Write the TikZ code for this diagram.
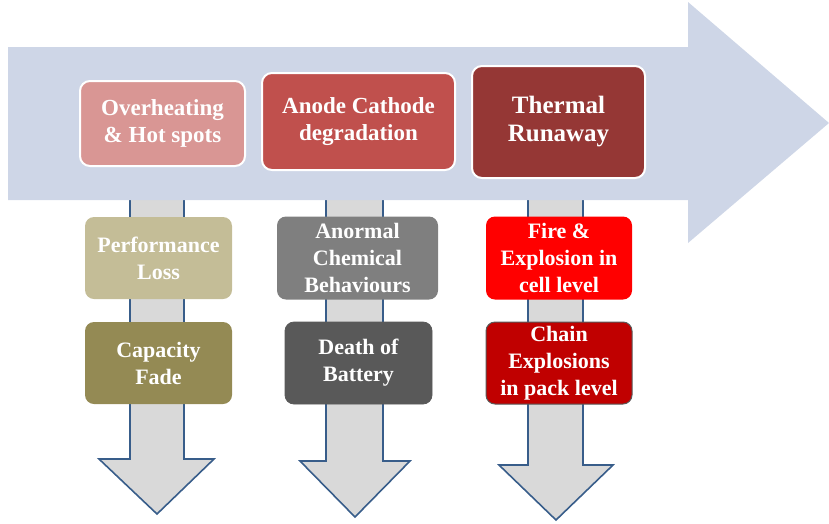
\documentclass[tikz,border=0pt]{standalone}
\usepackage{fontspec}
\setmainfont{Liberation Serif}
\definecolor{band}{HTML}{CED6E7}
\definecolor{shaft}{HTML}{D9D9D9}
\definecolor{shaftline}{HTML}{385D8A}
\definecolor{cA}{HTML}{D99694}
\definecolor{cB}{HTML}{C0504D}
\definecolor{cC}{HTML}{953735}
\definecolor{cD}{HTML}{C4BD97}
\definecolor{cE}{HTML}{948A54}
\definecolor{cF}{HTML}{7F7F7F}
\definecolor{cG}{HTML}{595959}
\definecolor{cH}{HTML}{FF0000}
\definecolor{cI}{HTML}{C00000}
\tikzset{
  topbox/.style={draw=white, line width=2pt, rounded corners=10pt, text=white,
    font=\fontsize{23}{27}\selectfont\bfseries, align=center, inner sep=0pt},
  lowbox/.style={rounded corners=9pt, text=white,
    font=\fontsize{22}{27}\selectfont\bfseries, align=center, inner sep=0pt},
  downarrow/.style={fill=shaft, draw=shaftline, line width=1.6pt, line join=miter}
}
\begin{document}
\begin{tikzpicture}[x=1pt,y=-1pt]
\useasboundingbox (0,0) rectangle (829,523);
% down arrows
\draw[downarrow] (130,190) -- (130,459) -- (99,459) -- (157,514) -- (214,459) -- (184,459) -- (184,190);
\draw[downarrow] (326,190) -- (326,461) -- (300,461) -- (355,517) -- (410,461) -- (383,461) -- (383,190);
\draw[downarrow] (528,190) -- (528,465) -- (499,465) -- (556,520) -- (613,465) -- (583,465) -- (583,190);
% big arrow
\fill[band] (8,47) -- (688,47) -- (688,2) -- (829,123) -- (688,243) -- (688,200) -- (8,200) -- cycle;
% top boxes
\node[topbox, fill=cA, minimum width=165pt, minimum height=85pt] (a) at (162.5,123.5) {Overheating\\\& Hot spots};
\node[topbox, fill=cB, minimum width=193pt, minimum height=97pt] (b) at (358.5,121.5) {Anode Cathode\\degradation};
\node[topbox, fill=cC, minimum width=173pt, minimum height=112pt, font=\fontsize{25}{28}\selectfont\bfseries] (c) at (558.5,122) {Thermal\\Runaway};
% lower boxes
\node[lowbox, fill=cD, minimum width=147pt, minimum height=82pt] (d) at (158.5,258) {Performance\\Loss};
\node[lowbox, fill=cE, minimum width=147pt, minimum height=82pt] (e) at (158.5,363) {Capacity\\Fade};
\node[lowbox, fill=cF, minimum width=161pt, minimum height=83pt] (f) at (357.5,258) {Anormal\\Chemical\\Behaviours};
\node[lowbox, fill=cG, draw=gray!70!black, line width=0.8pt, minimum width=147pt, minimum height=82pt] (g) at (358.5,363) {Death of\\Battery};
\node[lowbox, fill=cH, minimum width=146pt, minimum height=83pt] (h) at (559,258) {Fire \&\\Explosion in\\cell level};
\node[lowbox, fill=cI, draw=gray!70!black, line width=1pt, minimum width=146pt, minimum height=82pt] (i) at (559,363) {Chain\\Explosions\\in pack level};
\end{tikzpicture}
\end{document}
